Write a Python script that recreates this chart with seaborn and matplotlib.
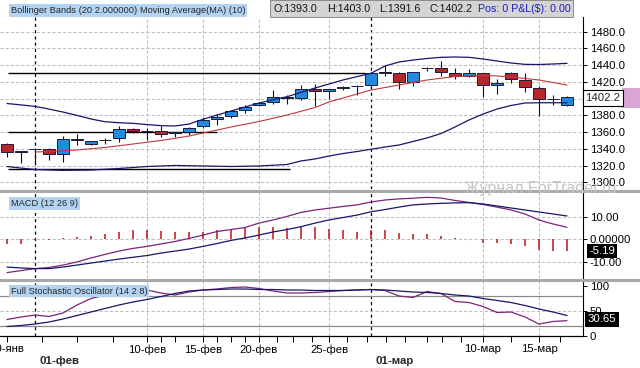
import matplotlib
matplotlib.use("Agg")
import matplotlib.pyplot as plt
import seaborn as sns
import pandas as pd
import numpy as np
from matplotlib.patches import Rectangle
from matplotlib.lines import Line2D

# trading days shown on the chart (Sunday sessions included)
days = ["30-янв", "31-янв",
        "01-фев", "02-фев", "03-фев", "04-фев", "06-фев", "07-фев", "08-фев", "09-фев",
        "10-фев", "11-фев", "13-фев", "14-фев", "15-фев", "16-фев", "17-фев", "18-фев",
        "20-фев", "21-фев", "22-фев", "23-фев", "24-фев", "25-фев", "27-фев", "28-фев",
        "01-мар", "02-мар", "03-мар", "04-мар", "06-мар", "07-мар", "08-мар", "09-мар",
        "10-мар", "11-мар", "13-мар", "14-мар", "15-мар", "16-мар", "17-мар"]

opens = [1345.4, 1337.0, 1339.5, 1339.8, 1333.8, 1351.0, 1345.4, 1350.3, 1352.6, 1364.0,
         1361.2, 1361.3, 1359.2, 1360.5, 1367.3, 1375.3, 1379.3, 1386.0, 1392.0, 1396.0,
         1402.3, 1400.4, 1411.1, 1409.1, 1412.3, 1414.8, 1416.3, 1430.8, 1431.0, 1419.5,
         1436.6, 1437.0, 1430.3, 1427.0, 1430.3, 1416.3, 1430.3, 1422.3, 1412.3, 1399.8, 1393.0]
highs = [1346.5, 1337.8, 1341.0, 1341.0, 1355.3, 1357.4, 1349.8, 1353.3, 1367.3, 1365.0,
         1365.3, 1367.7, 1360.0, 1366.0, 1377.7, 1381.6, 1386.4, 1392.4, 1396.4, 1410.3,
         1404.3, 1416.3, 1417.1, 1411.5, 1415.0, 1416.0, 1432.2, 1440.2, 1432.2, 1431.8,
         1438.0, 1444.6, 1436.3, 1435.0, 1431.0, 1423.1, 1432.2, 1430.3, 1415.5, 1404.3, 1403.0]
lows = [1330.6, 1322.7, 1320.7, 1326.7, 1324.6, 1344.6, 1345.0, 1345.4, 1348.5, 1358.9,
        1350.6, 1354.5, 1354.5, 1356.5, 1364.5, 1368.5, 1376.5, 1382.5, 1391.5, 1393.6,
        1393.6, 1398.4, 1391.2, 1399.2, 1410.3, 1404.3, 1411.1, 1427.0, 1411.1, 1415.5,
        1433.4, 1427.4, 1423.1, 1425.5, 1402.3, 1405.2, 1418.3, 1407.6, 1379.3, 1392.4, 1391.6]
closes = [1335.9, 1336.4, 1340.0, 1333.8, 1351.4, 1351.5, 1349.0, 1350.8, 1363.7, 1361.3,
          1361.6, 1357.4, 1359.6, 1365.3, 1374.5, 1378.4, 1384.8, 1389.6, 1395.2, 1402.3,
          1400.4, 1411.1, 1409.1, 1411.0, 1414.3, 1415.1, 1430.3, 1431.2, 1419.9, 1431.5,
          1437.0, 1431.5, 1426.7, 1430.3, 1416.0, 1418.3, 1423.5, 1413.5, 1399.2, 1399.4, 1402.2]

bb_upper = [1394.2, 1392.5, 1390.8, 1387.5, 1384.0, 1380.0, 1375.7, 1372.4, 1371.2, 1370.5,
            1369.0, 1367.7, 1367.3, 1369.7, 1375.3, 1380.4, 1385.2, 1390.0, 1394.8, 1398.6,
            1402.3, 1407.5, 1412.7, 1417.5, 1422.3, 1426.3, 1430.3, 1439.0, 1443.8, 1446.2,
            1448.0, 1449.4, 1449.8, 1449.4, 1447.4, 1445.0, 1442.6, 1441.0, 1440.8, 1441.4, 1442.2]
bb_lower = [1318.9, 1317.0, 1315.3, 1314.8, 1314.3, 1314.5, 1314.7, 1315.6, 1316.5, 1317.7,
            1318.9, 1319.5, 1320.1, 1319.8, 1319.5, 1319.2, 1318.9, 1319.2, 1319.5, 1320.4,
            1321.3, 1325.5, 1327.9, 1331.4, 1334.4, 1336.8, 1339.5, 1342.2, 1344.6, 1348.8,
            1353.0, 1358.3, 1366.1, 1374.5, 1381.6, 1387.6, 1391.8, 1394.8, 1395.1, 1395.1, 1395.1]
ma10 = [np.nan, np.nan, 1336.2, 1336.8, 1337.7, 1338.6, 1340.1, 1341.6, 1343.7, 1345.8,
        1347.9, 1350.0, 1352.6, 1355.3, 1358.9, 1362.5, 1366.1, 1369.4, 1372.7, 1376.5,
        1380.4, 1384.9, 1389.4, 1396.0, 1400.8, 1405.5, 1410.3, 1413.3, 1416.3, 1419.3,
        1422.3, 1424.4, 1426.5, 1427.1, 1427.7, 1427.1, 1425.9, 1424.1, 1422.3, 1419.3, 1416.3]

macd = [-15.0, -14.1, -13.2, -12.7, -11.6, -10.2, -8.4, -6.8, -5.3, -4.1,
        -3.2, -2.1, -1.0, 0.4, 1.9, 3.5, 4.4, 5.3, 7.3, 8.7,
        10.3, 12.1, 13.2, 14.0, 14.8, 15.5, 16.8, 17.7, 18.2, 18.5,
        18.9, 18.6, 17.5, 16.6, 15.7, 14.5, 13.2, 11.4, 8.7, 6.9, 5.4]
signal = [-12.5, -12.9, -13.2, -13.2, -12.5, -11.6, -10.7, -9.8, -8.9, -8.1,
          -7.3, -6.2, -5.3, -4.4, -3.2, -1.9, -0.5, 0.6, 1.9, 3.3,
          4.4, 5.7, 7.3, 8.7, 9.8, 10.9, 12.4, 13.4, 14.5, 15.5,
          15.9, 16.2, 16.4, 16.5, 15.9, 15.0, 14.1, 13.2, 12.3, 11.4, 10.5]
hist = [-2.0, -2.0, -0.3, -0.2, 0.5, 1.0, 1.5, 2.3, 3.5, 4.2,
        4.2, 3.8, 3.5, 3.2, 3.2, 4.2, 4.6, 5.2, 5.7, 5.4,
        5.0, 5.7, 5.4, 4.5, 4.2, 3.5, 4.2, 4.2, 3.0, 2.4,
        2.4, 1.5, 0.5, 0.1, -1.5, -1.8, -2.1, -3.0, -4.8, -5.3, -5.19]

stoch_k = [33, 38, 42, 39, 46, 62, 75, 82, 88, 91,
           92, 86, 82, 88, 92, 94, 97, 98, 95, 90,
           86, 86, 87, 89, 91, 92, 93, 91, 80, 77,
           89, 85, 69, 67, 59, 47, 48, 38, 24, 29, 30.65]
stoch_d = [19, 21, 24, 28, 34, 41, 48, 55, 62, 68,
           73, 79, 85, 90, 92, 93, 94, 94, 93, 93,
           92, 92, 91, 91, 91, 92, 93, 92, 90, 88,
           87, 85, 82, 80, 75, 71, 67, 61, 54, 48, 41]

# user drawn horizontal levels: (price, first bar, last bar)
levels = [(1430.6, 0.07, 25.6), (1360.5, 0.07, 15.0), (1315.5, 0.07, 20.2)]

day_ticks = ["30-янв", "10-фев", "15-фев", "20-фев", "25-фев", "10-мар", "15-мар"]
month_ticks = ["01-фев", "01-мар"]
minor_ticks = [2.5, 5, 7.6, 11, 12, 15, 16, 17, 19.3, 20.4, 21.8, 24.3, 25.7,
               27.1, 28.4, 30, 31.1, 32.4, 36, 39.5]

NAVY = "#17176b"
PURPLE = "#7d2377"
RED = "#b5272b"
BLUE = "#2289dd"
GRID = "#bdbdbd"
LABEL_BG = "#b3d3f3"

sns.set_theme(style="white")
plt.rcParams["font.family"] = ["Liberation Sans", "DejaVu Sans"]

W, H = 640, 368
fig = plt.figure(figsize=(W / 100, H / 100), dpi=100)
fig.patch.set_facecolor("white")


def fx(x):
    return x / W


def fy(y):
    return 1 - y / H


def panel(top, bottom):
    ax = fig.add_axes([0, 1 - bottom / H, 583 / W, (bottom - top) / H])
    ax.set_facecolor("white")
    for s in ["left", "top", "bottom"]:
        ax.spines[s].set_visible(False)
    ax.spines["right"].set_color("black")
    ax.spines["right"].set_linewidth(0.8)
    ax.yaxis.tick_right()
    ax.tick_params(axis="y", direction="out", length=3, width=0.7, pad=2,
                   labelsize=8.2, colors="black", right=True, left=False)
    ax.tick_params(axis="x", bottom=False, labelbottom=False)
    ax.set_xlim(-0.5, (583 - 7) / 14)
    return ax


ax_p = panel(17, 189)
ax_m = panel(192, 278)
ax_s = panel(281, 336)

idx = np.arange(len(days))
df = pd.DataFrame({"i": idx, "upper": bb_upper, "lower": bb_lower, "ma": ma10,
                   "macd": macd, "signal": signal, "k": stoch_k, "d": stoch_d})

day_pos = [days.index(d) for d in day_ticks]
month_pos = [days.index(m) for m in month_ticks]
grid_pos = [p for p in day_pos if p > 0]

for ax in (ax_p, ax_m, ax_s):
    for p in grid_pos:
        ax.axvline(p, color=GRID, ls=(0, (3, 2)), lw=0.75, zorder=1)
    for p in month_pos:
        ax.axvline(p, color="black", ls=(0, (2.5, 2.5)), lw=0.9, zorder=1)

# --- price panel
ax_p.set_ylim(1292.0, 1497.6)
price_ticks = np.arange(1300, 1481, 20)
ax_p.set_yticks(price_ticks)
# the 1400.0 label sits under the last-price marker
ax_p.set_yticklabels(["" if v == 1400 else f"{v:.1f}" for v in price_ticks])
for v in price_ticks:
    ax_p.axhline(v, color=GRID, ls=(0, (3, 2)), lw=0.75, zorder=1)
for lvl, x0, x1 in levels:
    ax_p.hlines(lvl, x0, x1, color="black", lw=1.0, zorder=2)

sns.lineplot(data=df, x="i", y="upper", ax=ax_p, color=NAVY, lw=0.9, zorder=5)
sns.lineplot(data=df, x="i", y="lower", ax=ax_p, color=NAVY, lw=0.9, zorder=5)
sns.lineplot(data=df, x="i", y="ma", ax=ax_p, color="#c0393b", lw=0.8, zorder=5)

o = np.array(opens)
c = np.array(closes)
body_lo = np.minimum(o, c)
body_h = np.maximum(np.abs(c - o), 0.5)
face = np.where(np.abs(c - o) < 1.0, "#111111", np.where(c >= o, BLUE, RED))
ax_p.vlines(idx, lows, highs, color="#111111", lw=0.8, zorder=3)
ax_p.bar(idx, body_h, bottom=body_lo, width=0.82, color=face,
         edgecolor="#1b1b3a", lw=0.7, zorder=4)

# --- MACD panel
ax_m.set_ylim(-17.43, 21.3)
ax_m.set_yticks([-10, 0, 10])
ax_m.set_yticklabels(["-10.00", "0.00000", "10.00"])
for v in (-10, 0, 10):
    ax_m.axhline(v, color=GRID, ls=(0, (3, 2)), lw=0.75, zorder=1)
ax_m.vlines(idx, 0, hist, color="#c01414", lw=1.1, zorder=3)
sns.lineplot(data=df, x="i", y="macd", ax=ax_m, color=PURPLE, lw=0.9, zorder=4)
sns.lineplot(data=df, x="i", y="signal", ax=ax_m, color=NAVY, lw=0.9, zorder=4)

# --- Stochastic panel
ax_s.set_ylim(0, 110)
ax_s.set_yticks([0, 50, 100])
ax_s.set_yticklabels(["0", "50", "100"])
ax_s.axhline(50, color=GRID, ls=(0, (3, 2)), lw=0.75, zorder=1)
ax_s.axhline(80, color="#8a8a8a", lw=0.9, zorder=1)
ax_s.axhline(20, color="#8a8a8a", lw=0.9, zorder=1)
sns.lineplot(data=df, x="i", y="k", ax=ax_s, color=PURPLE, lw=0.9, zorder=4)
sns.lineplot(data=df, x="i", y="d", ax=ax_s, color=NAVY, lw=0.9, zorder=4)

ax_s.spines["bottom"].set_visible(True)
ax_s.spines["bottom"].set_color("black")
ax_s.spines["bottom"].set_linewidth(0.9)
ax_s.set_xticks(day_pos)
ax_s.set_xticklabels(day_ticks)
ax_s.set_xticks(minor_ticks, minor=True)
ax_s.tick_params(axis="x", which="both", bottom=True, labelbottom=True,
                 direction="out", length=4, width=0.7, pad=2, labelsize=8.2,
                 colors="black")
for p, m in zip(month_pos, month_ticks):
    ax_s.text(p + 4 / 14, -0.45, m, transform=ax_s.get_xaxis_transform(),
              fontsize=8.2, fontweight="bold", ha="left", va="center", clip_on=False)

for ax in (ax_p, ax_m, ax_s):
    ax.set_xlabel("")
    ax.set_ylabel("")
    ax.set_xlim(-0.5, (583 - 7) / 14)
    if ax.get_legend() is not None:
        ax.get_legend().remove()

# panel separators
for ysep in (190.5, 279.5):
    fig.add_artist(Line2D([0, 1], [fy(ysep)] * 2, transform=fig.transFigure,
                          color="#a9a9a9", lw=2.2))

# header
lab = dict(boxstyle="square,pad=0.18", fc=LABEL_BG, ec="none")
fig.text(fx(11), fy(10.5), "Bollinger Bands (20 2.000000)", fontsize=6.7,
         va="center", bbox=lab)
fig.text(fx(140), fy(10.5), "Moving Average(MA) (10)", fontsize=6.7,
         va="center", bbox=lab)
fig.text(fx(11), fy(203.5), "MACD (12 26 9)", fontsize=6.7, va="center", bbox=lab)
fig.text(fx(11), fy(291), "Full Stochastic Oscillator (14 2 8)", fontsize=6.7,
         va="center", bbox=lab)

fig.add_artist(Rectangle((fx(270), fy(16.5)), (573 - 270) / W, 16.5 / H,
                         transform=fig.transFigure, fc="#d4d4d4", ec="#7a7a7a", lw=0.6))
hdr = [(274, f"O:{opens[-1]:.1f}"), (327, f"H:{highs[-1]:.1f}"),
       (379, f"L:{lows[-1]:.1f}"), (430, f"C:{closes[-1]:.1f}")]
for xh, t in hdr:
    fig.text(fx(xh), fy(8.5), t, fontsize=7.7, va="center", color="#111111")
fig.text(fx(478), fy(8.5), "Pos: 0 P&L($): 0.00", fontsize=7.7, va="center",
         color="#1c1cc4")

# last value markers
fig.add_artist(Rectangle((fx(622), fy(108)), 18 / W, 20 / H,
                         transform=fig.transFigure, fc="#d9a6d6", ec="none"))
fig.text(fx(603), fy(98), f"{closes[-1]:.1f}", fontsize=8.2, ha="center", va="center",
         bbox=dict(boxstyle="square,pad=0.25", fc="white", ec="black", lw=0.8))
fig.text(fx(602), fy(251), f"{hist[-1]:.2f}", fontsize=8.2, ha="center", va="center",
         color="white", bbox=dict(boxstyle="square,pad=0.2", fc="black", ec="none"))
fig.text(fx(602), fy(319.5), f"{stoch_k[-1]:.2f}", fontsize=8.2, ha="center",
         va="center", color="white",
         bbox=dict(boxstyle="square,pad=0.2", fc="black", ec="none"))

# watermark
fig.text(fx(465), fy(188), "Журнал ForTrader.ru", fontsize=11.5, color="#c6c6c6",
         va="center", ha="left")

fig.savefig("out.png", dpi=100)
